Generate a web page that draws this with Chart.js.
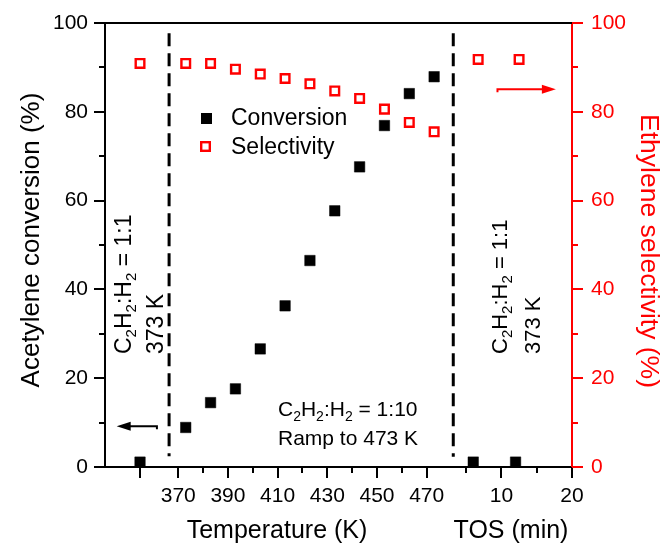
<!DOCTYPE html>
<html>
<head>
<meta charset="utf-8">
<script src="https://cdn.jsdelivr.net/npm/chart.js@4.4.1/dist/chart.umd.min.js"></script>
<style>
body { margin: 0; background: #fff; }
#wrap { width: 661px; height: 548px; }
</style>
</head>
<body>
<div id="wrap"><canvas id="graf" width="661" height="548"></canvas></div>
<script>
// Dados
const rampTemps = [373, 383, 393, 403, 413, 423, 433, 443, 453, 463, 473];
const rampConversion = [8.9, 14.5, 17.6, 26.6, 36.3, 46.5, 57.7, 67.6, 76.9, 84.1, 87.9];
const rampSelectivity = [90.9, 90.9, 89.6, 88.5, 87.5, 86.3, 84.7, 83.0, 80.6, 77.6, 75.5];
const startConversion = [1.1];
const startSelectivity = [90.9];
const tosConvTimes = [6.0, 12.0];
const tosConversion = [1.1, 1.1];
const tosSelTimes = [6.7, 12.5];
const tosSelectivity = [91.8, 91.8];
const tempTickLabels = [370, 390, 410, 430, 450, 470];
const tosTickLabels = [10, 20];

const FONT = "'Liberation Sans', Arial, sans-serif";
const RED = '#ff0000';

// Eixo x "quebrado": unidade = K no trecho da rampa
const X_MIN = 340.5, X_MAX = 528.5;
const START_POS = 354.6;
const tosPos = t => 471.7 + 2.84 * t;

// Lista de ticks do eixo x
const xTicks = [{ v: START_POS, major: true, label: '' }];
tempTickLabels.forEach((t, i) => {
    xTicks.push({ v: t, major: true, label: String(t) });
    if (i < tempTickLabels.length - 1) xTicks.push({ v: t + 10, major: false, label: '' });
});
xTicks.push({ v: tosPos(5), major: false, label: '' });
tosTickLabels.forEach(t => {
    xTicks.push({ v: tosPos(t), major: true, label: String(t) });
    if (t + 5 < 20) xTicks.push({ v: tosPos(t + 5), major: false, label: '' });
});

// Pontos
const convPoints = [{ x: START_POS, y: startConversion[0] }]
    .concat(rampTemps.map((t, i) => ({ x: t, y: rampConversion[i] })))
    .concat(tosConvTimes.map((t, i) => ({ x: tosPos(t), y: tosConversion[i] })));
const selPoints = [{ x: START_POS, y: startSelectivity[0] }]
    .concat(rampTemps.map((t, i) => ({ x: t, y: rampSelectivity[i] })))
    .concat(tosSelTimes.map((t, i) => ({ x: tosPos(t), y: tosSelectivity[i] })));

// Texto com subscritos
function drawRich(ctx, parts, x, y, size) {
    const sub = Math.round(size * 0.66);
    ctx.textAlign = 'left';
    ctx.textBaseline = 'alphabetic';
    let cx = x;
    parts.forEach(p => {
        ctx.font = (p[1] ? sub : size) + 'px ' + FONT;
        ctx.fillText(p[0], cx, p[1] ? y + 5 : y);
        cx += ctx.measureText(p[0]).width;
    });
}
const ratio11 = [['C'], ['2', 1], ['H'], ['2', 1], [':H'], ['2', 1], [' = 1:1']];
const ratio110 = [['C'], ['2', 1], ['H'], ['2', 1], [':H'], ['2', 1], [' = 1:10']];

function arrow(ctx, x1, x2, y, color) {
    // x1 = cauda, x2 = ponta
    const dir = Math.sign(x2 - x1);
    ctx.strokeStyle = color;
    ctx.fillStyle = color;
    ctx.lineWidth = 2;
    ctx.beginPath();
    ctx.moveTo(x1, y + 3);
    ctx.lineTo(x1, y);
    ctx.lineTo(x2 - dir * 8, y);
    ctx.stroke();
    ctx.beginPath();
    ctx.moveTo(x2, y);
    ctx.lineTo(x2 - dir * 14, y - 4.5);
    ctx.lineTo(x2 - dir * 14, y + 4.5);
    ctx.closePath();
    ctx.fill();
}

const decoPlugin = {
    id: 'deco',
    afterDatasetsDraw(chart) {
        const { ctx } = chart;
        const x = chart.scales.x, y = chart.scales.y;
        ctx.save();
        // linhas tracejadas
        ctx.strokeStyle = '#000';
        ctx.lineWidth = 3;
        ctx.setLineDash([13, 7]);
        [[366.3, 2.4], [480.7, 2.3]].forEach(d => {
            ctx.beginPath();
            ctx.moveTo(x.getPixelForValue(d[0]), y.getPixelForValue(97.7));
            ctx.lineTo(x.getPixelForValue(d[0]), y.getPixelForValue(d[1]));
            ctx.stroke();
        });
        ctx.setLineDash([]);

        // setas
        arrow(ctx, x.getPixelForValue(361.4), x.getPixelForValue(345.2), y.getPixelForValue(9.2), '#000');
        arrow(ctx, x.getPixelForValue(498.5), x.getPixelForValue(522), y.getPixelForValue(85.1), RED);

        // legenda
        ctx.fillStyle = '#000';
        ctx.fillRect(201, 113, 11, 11);
        ctx.strokeStyle = RED;
        ctx.lineWidth = 2.4;
        ctx.fillStyle = '#fff';
        ctx.fillRect(201.2, 142.2, 8.6, 8.6);
        ctx.strokeRect(201.2, 142.2, 8.6, 8.6);
        ctx.fillStyle = '#000';
        ctx.font = '23px ' + FONT;
        ctx.textAlign = 'left';
        ctx.textBaseline = 'middle';
        ctx.fillText('Conversion', 231, 119);
        ctx.fillText('Selectivity', 231, 148);

        // textos
        ctx.fillStyle = '#000';
        drawRich(ctx, ratio110, 278, 416, 21);
        ctx.font = '21px ' + FONT;
        ctx.fillText('Ramp to 473 K', 278, 445);

        [[131, 163, 23], [507, 540, 22]].forEach(b => {
            ctx.save();
            ctx.translate(b[0], 354);
            ctx.rotate(-Math.PI / 2);
            drawRich(ctx, ratio11, 0, 0, b[2]);
            ctx.restore();
            ctx.save();
            ctx.translate(b[1], 354);
            ctx.rotate(-Math.PI / 2);
            ctx.font = b[2] + 'px ' + FONT;
            ctx.textAlign = 'left';
            ctx.textBaseline = 'alphabetic';
            ctx.fillText('373 K', 0, 0);
            ctx.restore();
        });
        ctx.restore();
    },
    afterDraw(chart) {
        const { ctx, chartArea: a } = chart;
        const x = chart.scales.x, y = chart.scales.y;
        ctx.save();
        ctx.lineWidth = 2;
        // borda superior
        ctx.strokeStyle = '#000';
        ctx.beginPath();
        ctx.moveTo(a.left - 1, a.top);
        ctx.lineTo(a.right, a.top);
        ctx.stroke();
        // ticks x
        xTicks.forEach(t => {
            const px = Math.round(x.getPixelForValue(t.v));
            ctx.beginPath();
            ctx.moveTo(px, a.bottom);
            ctx.lineTo(px, a.bottom + (t.major ? 11 : 6));
            ctx.stroke();
        });
        // ticks y (esquerda preto, direita vermelho)
        for (let v = 0; v <= 100; v += 10) {
            const py = Math.round(y.getPixelForValue(v));
            const len = v % 20 === 0 ? 11 : 6;
            ctx.strokeStyle = '#000';
            ctx.beginPath();
            ctx.moveTo(a.left, py);
            ctx.lineTo(a.left - len, py);
            ctx.stroke();
            ctx.strokeStyle = RED;
            ctx.beginPath();
            ctx.moveTo(a.right, py);
            ctx.lineTo(a.right + len, py);
            ctx.stroke();
        }
        // títulos dos eixos
        ctx.fillStyle = '#000';
        ctx.font = '25px ' + FONT;
        ctx.textAlign = 'center';
        ctx.textBaseline = 'middle';
        ctx.fillText('Temperature (K)', 277, 531);
        ctx.fillText('TOS (min)', 511, 531);
        ctx.font = '26px ' + FONT;
        ctx.save();
        ctx.translate(32, 240);
        ctx.rotate(-Math.PI / 2);
        ctx.fillText('Acetylene conversion (%)', 0, 0);
        ctx.restore();
        ctx.save();
        ctx.fillStyle = RED;
        ctx.font = '26.5px ' + FONT;
        ctx.translate(648, 251);
        ctx.rotate(Math.PI / 2);
        ctx.fillText('Ethylene selectivity (%)', 0, 0);
        ctx.restore();
        ctx.restore();
    }
};

Chart.defaults.font.family = FONT;
Chart.defaults.font.size = 21;
Chart.defaults.color = '#000';

new Chart(document.getElementById('graf'), {
    type: 'scatter',
    data: {
        datasets: [
            {
                label: 'Conversion',
                data: convPoints,
                yAxisID: 'y',
                pointStyle: 'rect',
                pointRadius: 7.4,
                pointHoverRadius: 7.4,
                backgroundColor: '#000',
                borderColor: '#000',
                borderWidth: 0.5,
                clip: false
            },
            {
                label: 'Selectivity',
                data: selPoints,
                yAxisID: 'y2',
                pointStyle: 'rect',
                pointRadius: 6.1,
                pointHoverRadius: 6.1,
                backgroundColor: '#fff',
                borderColor: RED,
                borderWidth: 2.4,
                clip: false
            }
        ]
    },
    options: {
        responsive: false,
        animation: false,
        layout: { padding: { top: 23, left: 0, right: 0, bottom: 0 } },
        plugins: { legend: { display: false }, tooltip: { enabled: false } },
        scales: {
            x: {
                type: 'linear',
                min: X_MIN,
                max: X_MAX,
                afterBuildTicks: s => { s.ticks = xTicks.map(t => ({ value: t.v })); },
                afterFit: s => { s.height = 81; },
                grid: { display: true, drawOnChartArea: false, drawTicks: true, tickLength: 11, tickColor: 'rgba(0,0,0,0)' },
                border: { color: '#000', width: 2 },
                ticks: {
                    autoSkip: false,
                    maxRotation: 0,
                    padding: 6,
                    color: '#000',
                    callback: (v, i) => xTicks[i] ? xTicks[i].label : ''
                }
            },
            y: {
                position: 'left',
                min: 0,
                max: 100,
                afterFit: s => { s.width = 105; },
                grid: { display: true, drawOnChartArea: false, drawTicks: true, tickLength: 11, tickColor: 'rgba(0,0,0,0)' },
                border: { color: '#000', width: 2 },
                ticks: {
                    stepSize: 10,
                    padding: 6,
                    color: '#000',
                    callback: v => (v % 20 === 0 ? v : '')
                }
            },
            y2: {
                position: 'right',
                min: 0,
                max: 100,
                afterFit: s => { s.width = 89; },
                grid: { display: true, drawOnChartArea: false, drawTicks: true, tickLength: 11, tickColor: 'rgba(0,0,0,0)' },
                border: { color: RED, width: 2 },
                ticks: {
                    stepSize: 10,
                    padding: 8,
                    color: RED,
                    callback: v => (v % 20 === 0 ? v : '')
                }
            }
        }
    },
    plugins: [decoPlugin]
});
</script>
</body>
</html>
